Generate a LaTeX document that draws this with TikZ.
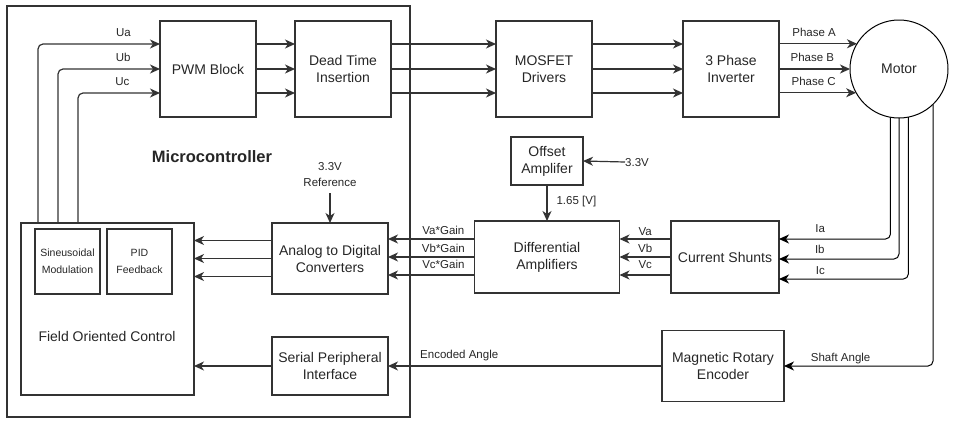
\documentclass[tikz,border=0pt]{standalone}
\usepackage{fontspec}
\setmainfont{Liberation Sans}
\usepackage{tikz}
\usetikzlibrary{arrows.meta,calc}
\tikzset{
  blkbox/.style={draw=black!80, line width=1.2pt, align=center, outer sep=0pt, inner sep=2pt,
    font=\fontsize{14}{17}\selectfont, text=black!85},
  blksmall/.style={blkbox, minimum width=65pt, minimum height=65pt, font=\fontsize{10.5}{17}\selectfont},
  blkarrow/.style={-{Stealth[length=10pt, width=9pt, inset=3pt]}, line width=1.2pt, draw=black!80},
  blkline/.style={line width=1.2pt, draw=black!80},
  blklabel/.style={font=\fontsize{11.5}{16}\selectfont, align=center, inner sep=0pt, text depth=0pt, text=black!85},
}

\begin{document}
\begin{tikzpicture}[x=1pt, y=-1pt]
  \useasboundingbox (0,0) rectangle (954,424);
  % microcontroller
  \node[blkbox, minimum width=403pt, minimum height=411pt] (mcu) at (208.5,211.5) {};
  \node[font=\fontsize{16.5}{20}\selectfont\bfseries, text=black!85] (mcutitle) at (212,157) {Microcontroller};
  \node[blkbox, minimum width=96pt, minimum height=96pt] (pwm) at (208,69) {PWM Block};
  \node[blkbox, minimum width=96pt, minimum height=96pt] (dti) at (343,69) {Dead Time\\Insertion};
  \node[blkbox, minimum width=173pt, minimum height=172pt] (foc) at (107.5,309) {};
  \node[blklabel, font=\fontsize{14}{17}\selectfont] (foclabel) at (107,336) {Field Oriented Control};
  \node[blksmall] (sine) at (67.5,261.5) {Sineusoidal\\Modulation};
  \node[blksmall] (pid) at (139.5,261.5) {PID\\Feedback};
  \node[blkbox, minimum width=116pt, minimum height=71pt] (adc) at (330,258.5) {Analog to Digital\\Converters};
  \node[blkbox, minimum width=116pt, minimum height=58pt] (spi) at (330,366) {Serial Peripheral\\Interface};
  \node[blklabel] (vref) at (330,174) {3.3V\\Reference};
  % power stage and sensing
  \node[blkbox, minimum width=96pt, minimum height=96pt] (drv) at (544,69) {MOSFET\\Drivers};
  \node[blkbox, minimum width=96pt, minimum height=96pt] (inv) at (731,69) {3 Phase\\Inverter};
  \node[blkbox, circle, line width=1pt, draw=black, minimum size=98pt] (motor) at (899,69) {Motor};
  \node[blkbox, minimum width=72pt, minimum height=48pt] (offs) at (547,161) {Offset\\Amplifer};
  \node[blklabel, anchor=west] (vin) at (625,162) {3.3V};
  \node[blkbox, minimum width=145pt, minimum height=72pt] (diff) at (547,257) {Differential\\Amplifiers};
  \node[blkbox, minimum width=108pt, minimum height=72pt] (shunt) at (725,257) {Current Shunts};
  \node[blkbox, minimum width=122pt, minimum height=71pt] (enc) at (723,366) {Magnetic Rotary\\Encoder};

  \draw[blkarrow, rounded corners=5pt] ($(foc.north west)+(17,0)$) |- node[blklabel, above=7pt, pos=0.85]{Ua} ($(pwm.west)+(0,-25)$);
  \draw[blkarrow, rounded corners=5pt] ($(foc.north west)+(37,0)$) |- node[blklabel, above=7pt, pos=0.82]{Ub} (pwm.west);
  \draw[blkarrow, rounded corners=5pt] ($(foc.north west)+(57,0)$) |- node[blklabel, above=7pt, pos=0.77]{Uc} ($(pwm.west)+(0,24)$);
  \draw[blkarrow] ($(pwm.east)+(0,-25)$) -- ($(dti.west)+(0,-25)$);
  \draw[blkarrow] (pwm.east) -- (dti.west);
  \draw[blkarrow] ($(pwm.east)+(0,24)$) -- ($(dti.west)+(0,24)$);
  \draw[blkarrow] ($(dti.east)+(0,-25)$) -- ($(drv.west)+(0,-25)$);
  \draw[blkarrow] (dti.east) -- (drv.west);
  \draw[blkarrow] ($(dti.east)+(0,24)$) -- ($(drv.west)+(0,24)$);
  \draw[blkarrow] ($(drv.east)+(0,-25)$) -- ($(inv.west)+(0,-25)$);
  \draw[blkarrow] (drv.east) -- (inv.west);
  \draw[blkarrow] ($(drv.east)+(0,24)$) -- ($(inv.west)+(0,24)$);
  \draw[blkarrow] (inv.east |- motor.149.3) -- node[blklabel, above=7pt, pos=0.45]{Phase A} (motor.149.3);
  \draw[blkarrow] (inv.east) -- node[blklabel, above=7pt, pos=0.47]{Phase B} (motor.west);
  \draw[blkarrow] (inv.east |- motor.209.3) -- node[blklabel, above=7pt, pos=0.45]{Phase C} (motor.209.3);

  \draw[blkarrow, line width=1pt, draw=black, rounded corners=5pt] (motor.-100.6) |- node[blklabel, above=6pt, pos=0.815]{Ia} ($(shunt.east)+(0,-18)$);
  \draw[blkarrow, line width=1pt, draw=black, rounded corners=5pt] (motor.south) |- node[blklabel, above=5pt, pos=0.83]{Ib} ($(shunt.east)+(0,2)$);
  \draw[blkarrow, line width=1pt, draw=black, rounded corners=5pt] (motor.-79.4) |- node[blklabel, above=4pt, pos=0.84]{Ic} ($(shunt.east)+(0,22)$);
  \draw[blkarrow, line width=1pt, draw=black, rounded corners=5pt] (motor.-46) |- node[blklabel, above=4pt, pos=0.81]{Shaft Angle} (enc.east);

  \draw[blkarrow] ($(shunt.west)+(0,-18)$) -- node[blklabel, above=3pt]{Va} ($(diff.east)+(0,-18)$);
  \draw[blkarrow] (shunt.west) -- node[blklabel, above=4pt]{Vb} (diff.east);
  \draw[blkarrow] ($(shunt.west)+(0,18)$) -- node[blklabel, above=5.5pt]{Vc} ($(diff.east)+(0,18)$);
  \draw[blkarrow] ($(diff.west)+(0,-18)$) -- node[blklabel, above=4pt, pos=0.36]{Va*Gain} (adc.east |- {$(diff.west)+(0,-18)$});
  \draw[blkarrow] (diff.west) -- node[blklabel, above=4pt, pos=0.36]{Vb*Gain} (adc.east |- diff.west);
  \draw[blkarrow] ($(diff.west)+(0,18)$) -- node[blklabel, above=5.5pt, pos=0.36]{Vc*Gain} (adc.east |- {$(diff.west)+(0,18)$});
  \draw[blkarrow] ($(adc.west)+(0,-18)$) -- (foc.east |- {$(adc.west)+(0,-18)$});
  \draw[blkarrow] (adc.west) -- (foc.east |- adc.west);
  \draw[blkarrow] ($(adc.west)+(0,18)$) -- (foc.east |- {$(adc.west)+(0,18)$});
  \draw[blkarrow] (vref.south) ++(0,7) -- (adc.north);

  \draw[blkarrow] (vin.west) -- (offs.east);
  \draw[blkarrow] (offs.south) -- node[blklabel, anchor=west, pos=0.42, xshift=9pt]{1.65 [V]} (diff.north);

  \draw[blkarrow] (enc.west) -- node[blklabel, above=7pt, pos=0.74]{Encoded Angle} (spi.east);
  \draw[blkarrow] (spi.west) -- (foc.east |- spi.west);
\end{tikzpicture}
\end{document}
